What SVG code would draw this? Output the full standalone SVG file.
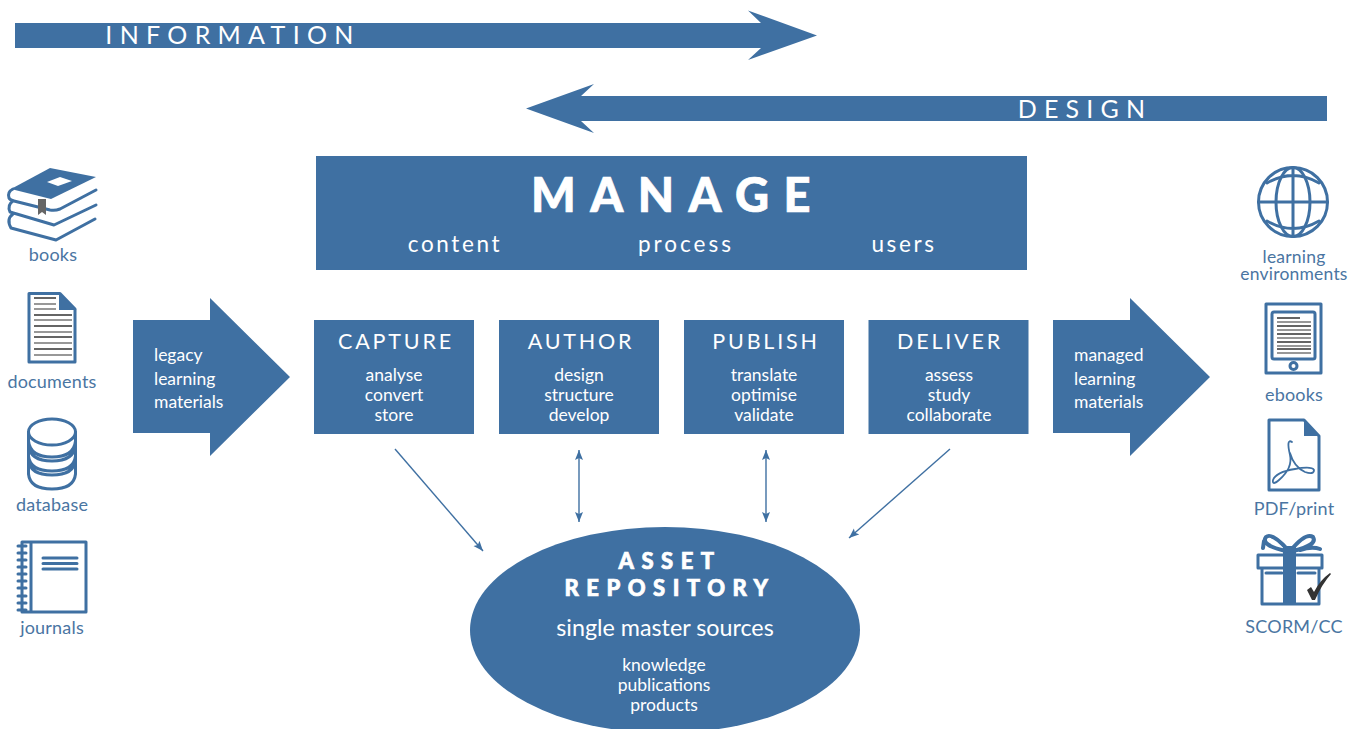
<svg xmlns="http://www.w3.org/2000/svg" width="1364" height="729" viewBox="0 0 1364 729">
<style>
text{font-family:"Lato","Noto Sans",sans-serif;fill:#fff;text-anchor:middle}
.blue{fill:#3f70a2}
.lab{fill:#4a75a2;font-size:18px;letter-spacing:.2px}
.t{font-size:17.5px}
.st{text-anchor:start}
.h{font-size:21.5px;letter-spacing:2.8px}
.heavy{font-weight:900;stroke:#fff;stroke-width:.7px}
.s{fill:none;stroke:#3f70a2;stroke-width:3;stroke-linejoin:round;stroke-linecap:round}
.g{stroke:#777;stroke-width:1.4}
.k{stroke:#333;stroke-width:1.4}
.conn{stroke:#3f70a2;stroke-width:1.4;fill:none;marker-end:url(#ah)}
.both{marker-start:url(#ahs)}
</style>
<defs>
<marker id="ah" markerUnits="userSpaceOnUse" markerWidth="11" markerHeight="9" refX="10" refY="4" orient="auto"><path d="M0 0L10 4L0 8L2 4Z" fill="#3f70a2"/></marker>
<marker id="ahs" markerUnits="userSpaceOnUse" markerWidth="11" markerHeight="9" refX="0" refY="4" orient="auto"><path d="M10 0L0 4L10 8L8 4Z" fill="#3f70a2"/></marker>
</defs>
<rect width="1364" height="729" fill="#fff"/>

<g id="information">
<path class="blue" d="M15 23H761L748 10.500L817 35.500L748 60L761 48H15Z"/>
<text x="233" y="44" font-size="25" style="letter-spacing:7.300px">INFORMATION</text>
</g>
<g id="design">
<path class="blue" d="M1327 96H581L594 84L526 108.500L594 133L581 121H1327Z"/>
<text x="1085" y="118" font-size="25" style="letter-spacing:7.200px">DESIGN</text>
</g>
<g id="manage">
<rect class="blue" x="316" y="156" width="711" height="114"/>
<text class="heavy" x="678" y="212" font-size="47" style="letter-spacing:14.500px">MANAGE</text>
<text x="455" y="252" font-size="22.500" style="letter-spacing:2.600px">content</text>
<text x="686" y="252" font-size="22.500" style="letter-spacing:3px">process</text>
<text x="904" y="252" font-size="22.500" style="letter-spacing:2.600px">users</text>
</g>
<g id="legacy">
<path class="blue" d="M133 320H210V298L290 377L210 456V433H133Z"/>
<text class="t st" x="154" y="361">legacy</text><text class="t st" x="154" y="385">learning</text><text class="t st" x="154" y="408">materials</text>
</g>
<g id="capture">
<rect class="blue" x="314" y="320" width="160" height="114"/>
<text class="h" x="396" y="349">CAPTURE</text>
<text class="t" x="394" y="381">analyse</text><text class="t" x="394" y="401">convert</text><text class="t" x="394" y="421">store</text>
</g>
<g id="author">
<rect class="blue" x="499" y="320" width="160" height="114"/>
<text class="h" x="581" y="349">AUTHOR</text>
<text class="t" x="579" y="381">design</text><text class="t" x="579" y="401">structure</text><text class="t" x="579" y="421">develop</text>
</g>
<g id="publish">
<rect class="blue" x="684" y="320" width="160" height="114"/>
<text class="h" x="766" y="349">PUBLISH</text>
<text class="t" x="764" y="381">translate</text><text class="t" x="764" y="401">optimise</text><text class="t" x="764" y="421">validate</text>
</g>
<g id="deliver">
<rect class="blue" x="868.500" y="320" width="160" height="114"/>
<text class="h" x="950" y="349">DELIVER</text>
<text class="t" x="949" y="381">assess</text><text class="t" x="949" y="401">study</text><text class="t" x="949" y="421">collaborate</text>
</g>
<g id="managed">
<path class="blue" d="M1053 320H1130V298L1210 377L1130 456V433H1053Z"/>
<text class="t st" x="1074" y="361">managed</text><text class="t st" x="1074" y="385">learning</text><text class="t st" x="1074" y="408">materials</text>
</g>
<g id="repository">
<ellipse class="blue" cx="665" cy="630" rx="195" ry="103"/>
<text class="heavy" x="670" y="569" font-size="22" style="letter-spacing:7.500px">ASSET</text>
<text class="heavy" x="670" y="596" font-size="22" style="letter-spacing:7.500px">REPOSITORY</text>
<text x="665" y="636" font-size="23.300">single master sources</text>
<text class="t" x="664" y="671">knowledge</text><text class="t" x="664" y="691">publications</text><text class="t" x="664" y="711">products</text>
</g>
<g id="connectors">
<path class="conn" d="M395 449L483 551"/>
<path class="conn both" d="M579 450V522"/>
<path class="conn both" d="M766 450V522"/>
<path class="conn" d="M950 449L849 538"/>
</g>

<g id="books">
<path class="blue" d="M11 189L50 168L96 177L51 199Z"/>
<path fill="#fff" d="M47 182L60 177L72 181L58 186Z"/>
<path class="s" d="M13 189Q7 192 9 198Q10 200 14 201L50 210Q55 211 60 209L96 190M13 201Q7 205 10 212L54 225L96 205M13 214Q6 219 11 228L56 240L95 219"/>
<path fill="#666" d="M38 199H46V215L42 212L38 215Z"/>
<text class="lab" x="53" y="261">books</text>
</g>
<g id="documents">
<path class="s" d="M29 293.500H60L75 309V362H29Z"/>
<path class="blue" d="M59 293L76.500 310H59Z"/>
<path class="k" d="M34 298H56M34 315H72M34 326H72M34 337H72M34 349H72"/>
<path class="g" d="M34 304H56M34 309H56M34 320H72M34 332H72M34 343H72M34 355H72"/>
<text class="lab" x="52" y="388">documents</text>
</g>
<g id="database">
<ellipse class="s" cx="52" cy="432" rx="23.500" ry="13"/>
<path class="s" d="M28.500 432V474Q30 489 52 489Q74 489 75.500 474V432M28.500 441Q30 457 52 457Q74 457 75.500 441M28.500 445Q30 461 52 461Q74 461 75.500 445M28.500 456Q30 471 52 471Q74 471 75.500 456M28.500 460Q30 475 52 475Q74 475 75.500 460"/>
<text class="lab" x="52" y="511">database</text>
</g>
<g id="journals">
<path class="s" d="M22 542H86V612H22ZM31 542V612"/>
<path class="s" d="M18 546H26M18 553H26M18 560H26M18 567H26M18 574H26M18 581H26M18 588H26M18 596H26M18 603H26M18 610H26"/>
<path class="s" d="M43 558H77M43 563.500H77M43 569H77"/>
<text class="lab" x="52" y="634">journals</text>
</g>
<g id="learning-environments">
<circle class="s" cx="1293" cy="202" r="34.500"/>
<ellipse class="s" cx="1293" cy="202" rx="17" ry="34.500"/>
<path class="s" d="M1293 167.500V236.500M1258.500 202H1327.500M1267 183Q1293 168 1319 183M1267 221Q1293 236 1319 221"/>
<text class="lab" x="1294" y="263" style="font-size:17.500px">learning</text>
<text class="lab" x="1294" y="280" style="font-size:17.500px">environments</text>
</g>
<g id="ebooks">
<rect class="s" x="1266" y="304" width="55" height="69"/>
<rect class="s" x="1272" y="312" width="43" height="47" rx="2"/>
<circle class="s" cx="1293.500" cy="366" r="3.500"/>
<path class="k" d="M1277 318H1300M1277 326H1311M1277 334H1311M1277 342H1311M1277 349H1311"/>
<path class="g" d="M1277 322H1311M1277 330H1311M1277 338H1311M1277 346H1311M1277 353H1311"/>
<text class="lab" x="1294" y="401">ebooks</text>
</g>
<g id="pdf-print">
<path class="s" d="M1269 420H1304L1319 436V490H1269Z"/>
<path class="blue" d="M1304 420L1320 436H1304Z"/>
<path class="s" style="stroke-width:1.800" d="M1292 442Q1286 438 1290 455Q1293 468 1279 480Q1272 486 1273 480Q1276 472 1295 469Q1312 466 1314 470Q1314 475 1305 472Q1294 467 1290 453"/>
<text class="lab" x="1294" y="515">PDF/print</text>
</g>
<g id="scorm-cc">
<path class="s" d="M1258 555H1322V568H1258ZM1262 568V604H1319V568M1266 573H1282M1298 573H1315"/>
<rect class="blue" x="1283" y="546" width="13" height="59"/>
<path class="s" style="stroke-width:4" d="M1288 550Q1272 532 1266 537Q1260 545 1286 551M1291 550Q1306 532 1313 537Q1318 545 1293 551M1264 541L1263 548M1300 550Q1312 546 1320 549"/>
<path fill="#333" d="M1307 590L1311 587L1314 592Q1320 580 1330 573L1331 574Q1322 584 1315 600H1312Z"/>
<text class="lab" x="1294" y="633">SCORM/CC</text>
</g>
</svg>
